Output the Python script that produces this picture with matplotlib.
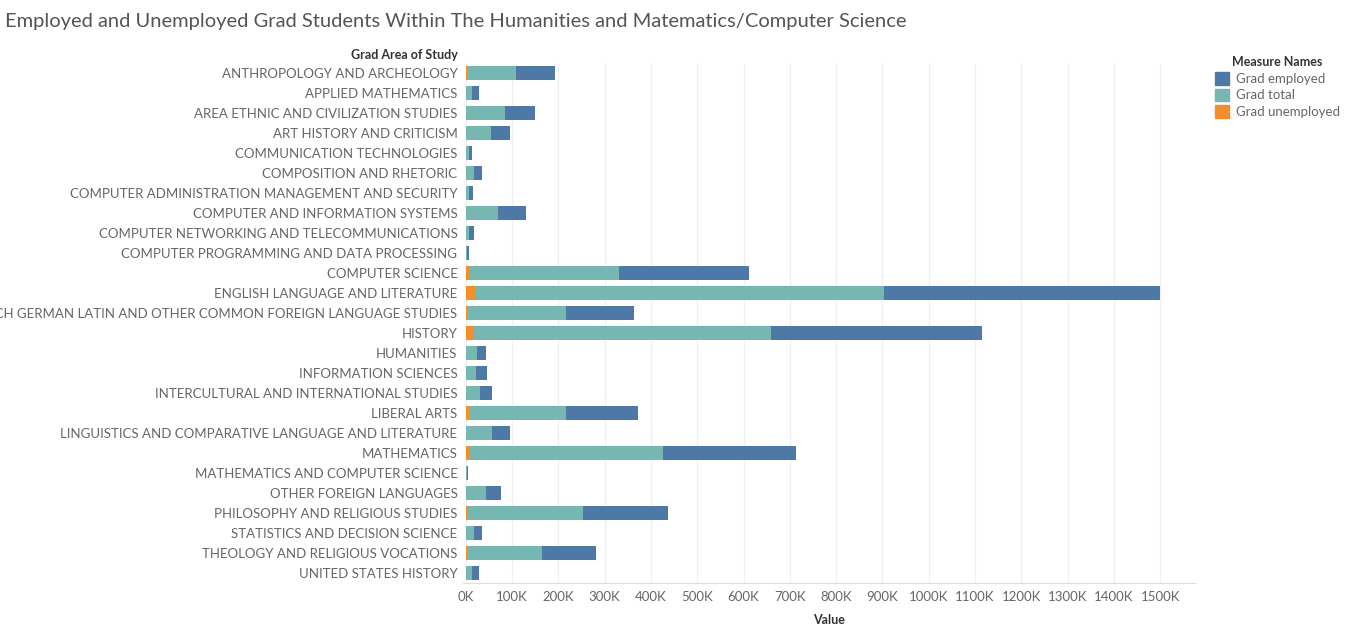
import matplotlib.pyplot as plt
from matplotlib.patches import Patch
from matplotlib.ticker import FuncFormatter
import numpy as np

plt.rcParams['font.family'] = ['Lato', 'DejaVu Sans']

majors = ["ANTHROPOLOGY AND ARCHEOLOGY", "APPLIED MATHEMATICS", "AREA ETHNIC AND CIVILIZATION STUDIES",
          "ART HISTORY AND CRITICISM", "COMMUNICATION TECHNOLOGIES", "COMPOSITION AND RHETORIC",
          "COMPUTER ADMINISTRATION MANAGEMENT AND SECURITY", "COMPUTER AND INFORMATION SYSTEMS",
          "COMPUTER NETWORKING AND TELECOMMUNICATIONS", "COMPUTER PROGRAMMING AND DATA PROCESSING",
          "COMPUTER SCIENCE", "ENGLISH LANGUAGE AND LITERATURE",
          "FRENCH GERMAN LATIN AND OTHER COMMON FOREIGN LANGUAGE STUDIES", "HISTORY", "HUMANITIES",
          "INFORMATION SCIENCES", "INTERCULTURAL AND INTERNATIONAL STUDIES", "LIBERAL ARTS",
          "LINGUISTICS AND COMPARATIVE LANGUAGE AND LITERATURE", "MATHEMATICS",
          "MATHEMATICS AND COMPUTER SCIENCE", "OTHER FOREIGN LANGUAGES", "PHILOSOPHY AND RELIGIOUS STUDIES",
          "STATISTICS AND DECISION SCIENCE", "THEOLOGY AND RELIGIOUS VOCATIONS", "UNITED STATES HISTORY"]

# values in thousands
grad_unemployed = [2, 0.5, 1.5, 1, 0.3, 0.5, 0.3, 1.5, 0.3, 0.2, 9, 19, 4, 17, 1, 1, 1, 6, 1, 9,
                   0.1, 1, 4, 0.5, 2, 0.5]
grad_total = [106, 14, 84, 53, 6, 17, 6, 68, 6, 3, 322, 884, 212, 642, 23, 21, 29, 210, 55, 417,
              2, 42, 249, 18, 162, 14]
grad_employed = [84, 13, 63, 41, 7, 18, 9, 61, 11, 3, 281, 597, 147, 456, 19, 23, 26, 156, 39, 287,
                 2, 33, 184, 16, 117, 13]

c_emp, c_tot, c_unemp = "#4e79a7", "#76b7b2", "#f28e2b"
grey = "#666666"

fig = plt.figure(figsize=(13.46, 6.38), dpi=100)
ax = fig.add_axes([463 / 1346, 1 - 583 / 638, (1195 - 463) / 1346, (583 - 63) / 638])

y = np.arange(len(majors))
u = np.array(grad_unemployed)
t = np.array(grad_total)
e = np.array(grad_employed)
h = 0.7
ax.barh(y, u, height=h, color=c_unemp)
ax.barh(y, t, left=u, height=h, color=c_tot)
ax.barh(y, e, left=u + t, height=h, color=c_emp)

ax.set_ylim(len(majors) - 0.5, -0.5)
ax.set_yticks(y)
ax.set_yticklabels(majors, fontsize=9.5, color=grey)
ax.set_xlim(-6, 1575)
ax.set_xticks(np.arange(0, 1501, 100))
ax.xaxis.set_major_formatter(FuncFormatter(lambda v, p: f"{int(v)}K"))
ax.tick_params(axis="x", labelsize=9.5, colors=grey, length=0, pad=6)
ax.tick_params(axis="y", length=0, pad=4)
ax.grid(axis="x", color="#f0f0f0", lw=1)
ax.set_axisbelow(True)
for s in ["top", "right", "left"]:
    ax.spines[s].set_visible(False)
ax.spines["bottom"].set_color("#dddddd")
ax.set_xlabel("Value", fontsize=9, color="#333333", fontweight="bold", labelpad=8)

fig.text(458 / 1346, 1 - 55 / 638, "Grad Area of Study", fontsize=9, fontweight="bold",
         color="#333333", ha="right", va="center")
fig.text(5 / 1346, 1 - 21 / 638, "Employed and Unemployed Grad Students Within The Humanities and Matematics/Computer Science",
         fontsize=14.5, color="#555555", va="center")

handles = [Patch(color=c_emp), Patch(color=c_tot), Patch(color=c_unemp)]
leg = fig.legend(handles, ["Grad employed", "Grad total", "Grad unemployed"],
                 loc="upper left", bbox_to_anchor=(1203 / 1346, 1 - 44 / 638), frameon=False,
                 fontsize=9.5, title="Measure Names", handlelength=1.1, handleheight=1.1,
                 handletextpad=0.5, labelspacing=0.3, alignment="center")
leg.get_title().set_fontweight("bold")
leg.get_title().set_fontsize(9)
leg.get_title().set_color("#333333")
for txt in leg.get_texts():
    txt.set_color(grey)

fig.savefig("out.png")
